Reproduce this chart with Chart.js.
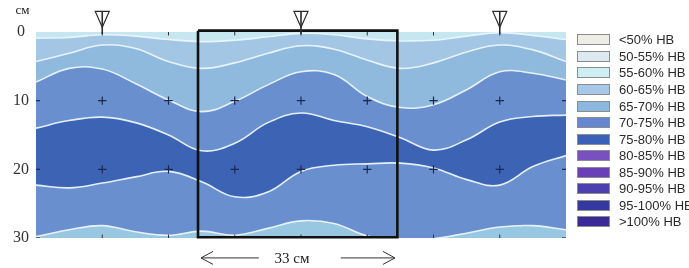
<!DOCTYPE html>
<html><head><meta charset="utf-8">
<script src="https://cdn.jsdelivr.net/npm/chart.js@4/dist/chart.umd.min.js"></script>
<style>html,body{margin:0;padding:0;background:#fff;}canvas{display:block;}</style>
</head><body>
<canvas id="c" width="689" height="268"></canvas>
<script>
// ---- data (distance along row, cm; depth, cm) ----
const positionsCm = [0, 5.5, 11, 16.5, 22, 27.5, 33, 38.5, 44, 49.5, 55, 60.5, 66, 71.5, 77, 82.5, 88];
const iso60Upper = [0.9, 0.8, 0.4, 0.6, 1.1, 1.4, 1.2, 0.7, 0.2, 0.4, 1.0, 1.3, 1.2, 0.6, 0.1, 0.5, 1.1];
const iso65Upper = [4.3, 3.1, 1.9, 2.4, 4.3, 5.3, 4.5, 3.1, 2.0, 2.5, 4.1, 5.3, 4.5, 2.9, 1.9, 2.6, 4.3];
const iso70Upper = [7.3, 5.3, 5.4, 7.5, 9.9, 11.6, 10.1, 7.7, 5.8, 6.2, 9.4, 11.0, 10.6, 8.4, 5.8, 6.0, 7.0];
const iso75Upper = [14.0, 12.9, 12.4, 13.2, 15.0, 17.3, 16.2, 13.2, 11.8, 12.9, 13.8, 15.4, 17.2, 15.7, 13.1, 12.3, 12.1];
const iso75Lower = [22.3, 22.7, 22.0, 21.1, 20.3, 21.8, 24.0, 23.3, 20.3, 19.4, 19.2, 19.1, 19.8, 21.5, 22.3, 19.6, 18.0];
const iso70Lower = [29.8, 28.8, 28.2, 29.1, 29.6, 29.0, 29.6, 28.6, 27.5, 27.9, 29.7, 30.3, 30.1, 29.3, 28.4, 28.2, 28.8];
const surfaceX = [0, 88];
const surfaceDepth = [0, 0];

const depthTicks = [0, 10, 20, 30];
const sensorX = [11, 22, 33, 44, 55, 66, 77];
const sensorDepth = [10, 20];
const edgeX = [0, 88];
const edgeTickDepth = [10, 20, 30];
const dripperX = [11, 44, 77];
const spanBoxX = [26.9, 60.0];
const spanBoxDepth = [-0.2, 29.9];
const spanArrowLeft = [27.4, 37.0];
const spanArrowRight = [50.6, 59.6];
const spanLabelX = 42.5;
const spanLabel = '33 см';
const depthUnit = 'см';

const legendLabels = ['<50% HB', '50-55% HB', '55-60% HB', '60-65% HB', '65-70% HB', '70-75% HB',
  '75-80% HB', '80-85% HB', '85-90% HB', '90-95% HB', '95-100% HB', '>100% HB'];
const legendColors = ['#eeeee6', '#dde9f0', '#cdeef3', '#a8c8ea', '#8cb8e0', '#6687d0',
  '#3a60b8', '#7850c0', '#6a40b8', '#4c40b0', '#3438a0', '#3a2a98'];
// band colours from the surface downward
const bandColors = ['#c6e7ef', '#a2c6e3', '#8fb9dd', '#6a8fcf', '#3c63b4', '#6a8fcf', '#98c7e1'];

// ---- build datasets ----
const isolines = [iso60Upper, iso65Upper, iso70Upper, iso75Upper, iso75Lower, iso70Lower];
const datasets = [];
datasets.push({
  data: surfaceX.map((x, i) => ({x, y: surfaceDepth[i]})),
  fill: {value: 30}, backgroundColor: bandColors[0], borderWidth: 0,
  pointRadius: 0, order: 100, clip: 0
});
isolines.forEach((iso, k) => {
  datasets.push({
    data: positionsCm.map((x, i) => ({x, y: iso[i]})),
    fill: {value: 30}, backgroundColor: bandColors[k + 1],
    borderColor: 'rgba(236,246,255,0.95)', borderWidth: 1.6,
    pointRadius: 0, tension: 0.4, order: 99 - k, clip: 0
  });
});
const sensorPts = [];
sensorDepth.forEach(d => sensorX.forEach(x => sensorPts.push({x, y: d})));
datasets.push({
  data: sensorPts, showLine: false, pointStyle: 'cross', pointRadius: 4.2,
  borderColor: '#1c2850', borderWidth: 1.2, order: 2, clip: 0
});
const edgePts = [];
edgeX.forEach(x => edgeTickDepth.forEach(d => edgePts.push({x, y: d})));
datasets.push({
  data: edgePts, showLine: false, pointStyle: 'line', pointRadius: 4,
  borderColor: '#1c2850', borderWidth: 1.2, order: 2, clip: 0
});
const colTickPts = [];
[0, 30].forEach(d => sensorX.forEach(x => colTickPts.push({x, y: d})));
datasets.push({
  data: colTickPts, showLine: false, pointStyle: 'line', pointRotation: 90, pointRadius: 3.5,
  borderColor: '#333', borderWidth: 1, order: 2, clip: 0
});
datasets.push({
  data: [
    {x: spanBoxX[0], y: spanBoxDepth[0]}, {x: spanBoxX[1], y: spanBoxDepth[0]},
    {x: spanBoxX[1], y: spanBoxDepth[1]}, {x: spanBoxX[0], y: spanBoxDepth[1]},
    {x: spanBoxX[0], y: spanBoxDepth[0]}
  ],
  borderColor: '#111', borderWidth: 2.6, borderJoinStyle: 'miter', pointRadius: 0,
  fill: false, tension: 0, order: 1, clip: false
});

// ---- plugins for annotations ----
const annotations = {
  id: 'annotations',
  afterDraw(chart) {
    const ctx = chart.ctx, xs = chart.scales.x, ys = chart.scales.y;
    ctx.save();
    // drippers
    ctx.strokeStyle = '#2a2a2a';
    dripperX.forEach(v => {
      const px = xs.getPixelForValue(v);
      const top = ys.getPixelForValue(-3.0), apex = ys.getPixelForValue(-0.7), low = ys.getPixelForValue(0.3);
      ctx.lineWidth = 1.2;
      ctx.beginPath();
      ctx.moveTo(px - 7, top); ctx.lineTo(px + 7, top); ctx.lineTo(px, apex); ctx.closePath();
      ctx.stroke();
      ctx.lineWidth = 1.6;
      ctx.beginPath(); ctx.moveTo(px, top); ctx.lineTo(px, low); ctx.stroke();
    });
    // span arrows
    const ay = ys.getPixelForValue(32.9);
    ctx.strokeStyle = '#333'; ctx.lineWidth = 1;
    const l0 = xs.getPixelForValue(spanArrowLeft[0]), l1 = xs.getPixelForValue(spanArrowLeft[1]);
    const r0 = xs.getPixelForValue(spanArrowRight[0]), r1 = xs.getPixelForValue(spanArrowRight[1]);
    ctx.beginPath();
    ctx.moveTo(l1, ay); ctx.lineTo(l0, ay);
    ctx.moveTo(l0 + 12, ay - 6.5); ctx.lineTo(l0, ay); ctx.lineTo(l0 + 12, ay + 6.5);
    ctx.moveTo(r0, ay); ctx.lineTo(r1, ay);
    ctx.moveTo(r1 - 12, ay - 6.5); ctx.lineTo(r1, ay); ctx.lineTo(r1 - 12, ay + 6.5);
    ctx.stroke();
    ctx.fillStyle = '#222';
    ctx.font = '15px "Liberation Serif", "Times New Roman", serif';
    ctx.textAlign = 'center'; ctx.textBaseline = 'middle';
    ctx.fillText(spanLabel, xs.getPixelForValue(spanLabelX), ay + 1);
    // unit label
    ctx.font = '13px "Liberation Serif", "Times New Roman", serif';
    ctx.textBaseline = 'alphabetic';
    ctx.fillText(depthUnit, 22.5, 14);
    // legend
    const x0 = chart.chartArea.right + 11;
    ctx.font = '13px "Liberation Sans", Arial, sans-serif';
    ctx.textAlign = 'left'; ctx.textBaseline = 'middle';
    legendLabels.forEach((lab, i) => {
      const cy = Math.round(39.3 + i * 16.55);
      ctx.fillStyle = legendColors[i];
      ctx.fillRect(x0, cy - 5, 33, 11);
      ctx.strokeStyle = '#8c8c8c'; ctx.lineWidth = 1;
      ctx.strokeRect(x0 + 0.5, cy - 4.5, 32, 10);
      ctx.fillStyle = '#2b2b2b';
      ctx.fillText(lab, x0 + 42, cy + 1);
    });
    ctx.restore();
  }
};

new Chart(document.getElementById('c'), {
  type: 'line',
  data: {datasets},
  options: {
    responsive: false, animation: false, devicePixelRatio: 1, events: [],
    layout: {padding: {left: 0, top: 32, right: 123, bottom: 30}},
    plugins: {legend: {display: false}, tooltip: {enabled: false}},
    scales: {
      x: {type: 'linear', min: 0, max: 88, display: false},
      y: {
        type: 'linear', min: 0, max: 30, reverse: true,
        afterFit: s => { s.width = 36; },
        afterBuildTicks: s => { s.ticks = depthTicks.map(v => ({value: v})); },
        grid: {display: false, drawTicks: false},
        border: {display: false},
        ticks: {
          crossAlign: 'center', padding: 7, color: '#333',
          font: {family: '"Liberation Serif", "Times New Roman", serif', size: 16}
        }
      }
    }
  },
  plugins: [annotations]
});
</script>
</body></html>
